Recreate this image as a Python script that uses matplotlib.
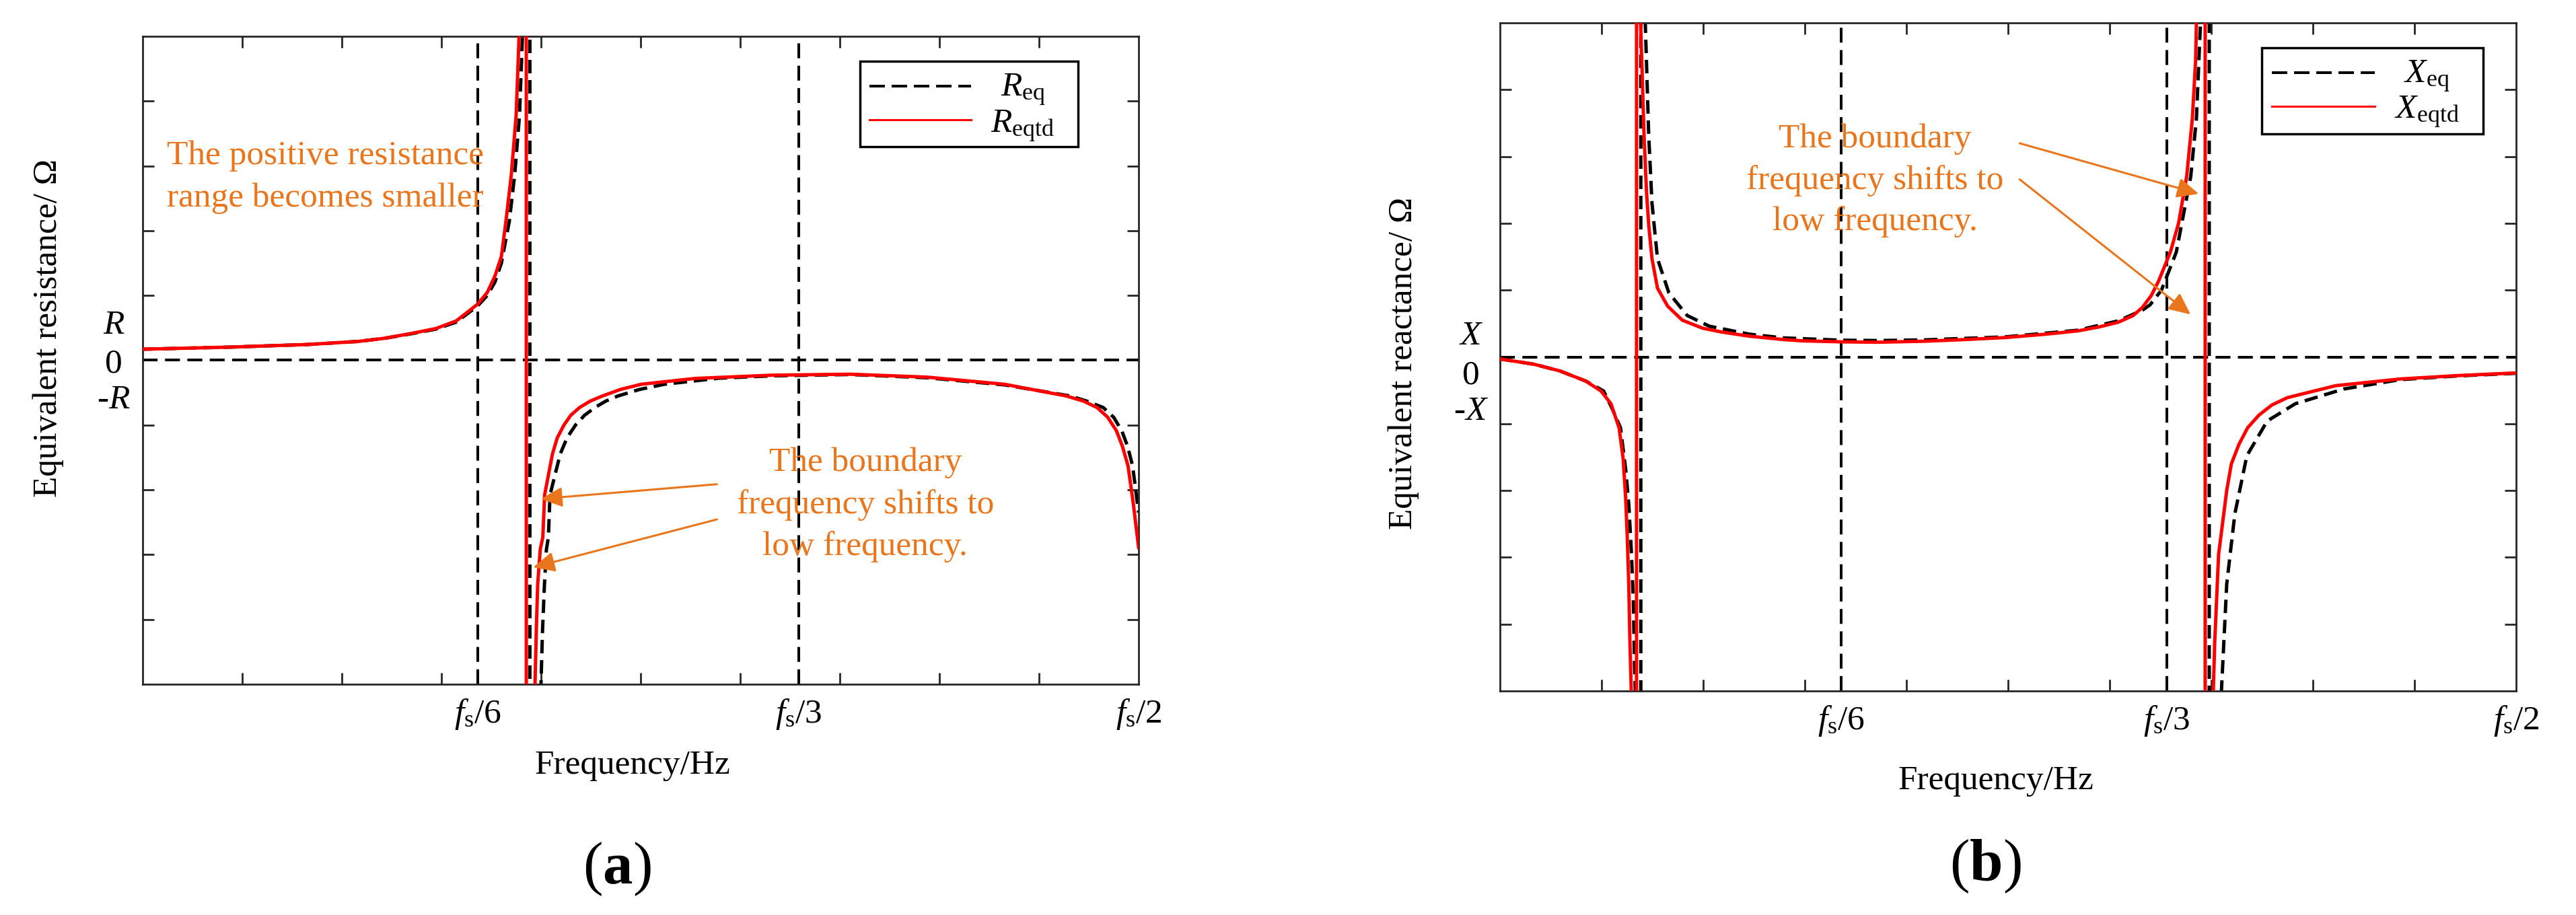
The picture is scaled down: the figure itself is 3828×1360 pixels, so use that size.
import matplotlib
matplotlib.use('Agg')
import matplotlib.pyplot as plt
from matplotlib.lines import Line2D
from matplotlib.patches import Rectangle
from matplotlib.ticker import NullFormatter

plt.rcParams['font.family'] = ['Liberation Serif', 'DejaVu Serif']
plt.rcParams['mathtext.fontset'] = 'custom'
plt.rcParams['mathtext.rm'] = 'Liberation Serif'
plt.rcParams['mathtext.it'] = 'Liberation Serif:italic'
plt.rcParams['mathtext.bf'] = 'Liberation Serif:bold'
plt.rcParams['axes.unicode_minus'] = False

FS = 37
ORANGE = '#E9761C'
SPINE = '#262626'

# ------------------------------------------------------------------ data
# x in fractions of fs (0 .. fs/2), y in arbitrary units (one tick = 1)
major_x = [0.05, 0.10, 0.15, 0.20, 0.25, 0.30, 0.35, 0.40, 0.45]
major_y = [-4, -3, -2, -1, 1, 2, 3, 4]

# ---- panel (a): equivalent resistance
a_xtick_pos = [0.1682, 0.3294, 0.5]
a_xtick_lab = [r'$f_{\mathrm{s}}$/6', r'$f_{\mathrm{s}}$/3', r'$f_{\mathrm{s}}$/2']
a_ytick_pos = [0.59, 0.0, -0.56]
a_ytick_lab = [r'$R$', '0', r'-$R$']
a_ref_v = [0.1682, 0.3294]

a_req_x = [0.0, 0.0437, 0.0825, 0.1083, 0.1213, 0.1342, 0.1471, 0.1575, 0.1682, 0.1730,
           0.1769, 0.1801, 0.1841, 0.1868, 0.1892, 0.1907, 0.1944, 0.1944,
           0.2000, 0.2007, 0.2017, 0.2027, 0.2037, 0.2045, 0.2096, 0.2130, 0.2173, 0.2218,
           0.2270, 0.2325, 0.2387, 0.2495, 0.2620, 0.2891, 0.3162, 0.3551, 0.3939, 0.4326,
           0.4655, 0.4740, 0.4823, 0.4875, 0.4916, 0.4945, 0.4970, 0.5000]
a_req_y = [0.171, 0.203, 0.243, 0.291, 0.339, 0.405, 0.480, 0.590, 0.840, 1.000,
           1.210, 1.500, 2.150, 2.870, 3.780, 5.020, 12.0, -12.0,
           -4.98, -4.21, -3.47, -2.92, -2.73, -2.08, -1.45, -1.20, -1.00, -0.85,
           -0.73, -0.63, -0.55, -0.45, -0.37, -0.277, -0.24, -0.22, -0.27, -0.38,
           -0.55, -0.63, -0.73, -0.88, -1.09, -1.33, -1.63, -2.35]

a_reqtd_x = [0.0, 0.0437, 0.0825, 0.1083, 0.1213, 0.1342, 0.1471, 0.1575, 0.1682, 0.1730,
             0.1769, 0.1801, 0.1824, 0.1851, 0.1875, 0.1890, 0.1926, 0.1926,
             0.1970, 0.1976, 0.1983, 0.1996, 0.2009, 0.2018, 0.2057, 0.2081, 0.2115, 0.2149,
             0.2193, 0.2247, 0.2309, 0.2399, 0.2503, 0.2775, 0.3162, 0.3550, 0.3938, 0.4326,
             0.4636, 0.4723, 0.4792, 0.4845, 0.4889, 0.4919, 0.4947, 0.4973, 0.5000]
a_reqtd_y = [0.171, 0.203, 0.243, 0.291, 0.339, 0.410, 0.489, 0.609, 0.867, 1.046,
             1.304, 1.602, 2.150, 2.870, 3.780, 5.020, 12.0, -12.0,
             -4.98, -4.21, -3.47, -2.92, -2.73, -2.08, -1.45, -1.20, -1.00, -0.85,
             -0.73, -0.63, -0.55, -0.45, -0.37, -0.28, -0.23, -0.215, -0.26, -0.37,
             -0.55, -0.63, -0.73, -0.88, -1.09, -1.33, -1.63, -2.20, -2.89]

# ---- panel (b): equivalent reactance
b_xtick_pos = [0.1678, 0.3280, 0.5]
b_xtick_lab = [r'$f_{\mathrm{s}}$/6', r'$f_{\mathrm{s}}$/3', r'$f_{\mathrm{s}}$/2']
b_ytick_pos = [0.37, -0.22, -0.76]
b_ytick_lab = [r'$X$', '0', r'-$X$']
b_ref_v = [0.1678, 0.3280]

b_xeq_x = [0.0, 0.0168, 0.0295, 0.0421, 0.0510, 0.0553, 0.0593, 0.0618, 0.0634, 0.0646,
           0.0656, 0.0662, 0.0666, 0.0693, 0.0693,
           0.0715, 0.0732, 0.0748, 0.0775, 0.0831, 0.0921, 0.1030, 0.1228, 0.1394, 0.1679,
           0.1858, 0.2089, 0.2487, 0.2844, 0.3043, 0.3161, 0.3199, 0.3255, 0.3328, 0.3399,
           0.3427, 0.3447, 0.3490, 0.3490,
           0.3550, 0.3576, 0.3616, 0.3675, 0.3775, 0.3914, 0.4152, 0.4430, 0.4709, 0.5000]
b_xeq_y = [-0.03, -0.11, -0.21, -0.36, -0.51, -0.78, -1.06, -1.67, -2.21, -2.89,
           -3.63, -4.59, -5.0, -12.0, 12.0,
           5.0, 3.31, 2.30, 1.47, 0.96, 0.62, 0.46, 0.34, 0.285, 0.25,
           0.245, 0.255, 0.30, 0.40, 0.54, 0.70, 0.78, 1.00, 1.57, 2.70,
           3.57, 5.0, 12.0, -12.0,
           -5.0, -3.40, -2.35, -1.48, -0.96, -0.70, -0.48, -0.34, -0.285, -0.245]

b_xeqtd_x = [0.0, 0.0168, 0.0295, 0.0421, 0.0497, 0.0546, 0.0586, 0.0606, 0.0618, 0.0626,
             0.0634, 0.0639, 0.0646, 0.0672, 0.0672,
             0.0692, 0.0699, 0.0709, 0.0721, 0.0732, 0.0748, 0.0775, 0.0825, 0.0897, 0.0997,
             0.1096, 0.1228, 0.1394, 0.1493, 0.1679, 0.1858, 0.2089, 0.2288, 0.2487, 0.2685,
             0.2844, 0.2950, 0.3043, 0.3116, 0.3161, 0.3205, 0.3240, 0.3299, 0.3339, 0.3379,
             0.3407, 0.3423, 0.3427, 0.3470, 0.3470,
             0.3510, 0.3517, 0.3536, 0.3576, 0.3599, 0.3636, 0.3679, 0.3735, 0.3798, 0.3874,
             0.4113, 0.4430, 0.4709, 0.5000]
b_xeqtd_y = [-0.03, -0.11, -0.21, -0.36, -0.51, -0.70, -1.06, -1.52, -2.09, -2.67,
             -3.44, -4.21, -5.0, -12.0, 12.0,
             5.0, 4.31, 3.31, 2.47, 1.97, 1.47, 1.03, 0.76, 0.55, 0.43,
             0.37, 0.31, 0.26, 0.24, 0.226, 0.22, 0.235, 0.26, 0.29, 0.34,
             0.39, 0.45, 0.52, 0.62, 0.74, 0.92, 1.13, 1.57, 2.00, 2.70,
             3.57, 4.44, 5.0, 12.0, -12.0,
             -5.0, -4.27, -2.96, -2.00, -1.60, -1.31, -1.06, -0.87, -0.72, -0.61,
             -0.43, -0.33, -0.28, -0.24]

# ------------------------------------------------------------------ figure
fig = plt.figure(figsize=(38.28, 13.6), dpi=100)
axa = fig.add_axes([0.05538, 0.25221, 0.38662, 0.70809])
axb = fig.add_axes([0.58229, 0.24485, 0.39446, 0.73015])

REF_LS = (0, (5.5, 2.75))
CUR_LS = (0, (4.0, 2.0))


def style(ax, xt_pos, xt_lab, yt_pos, yt_lab):
    ax.set_xlim(0, 0.5)
    ax.set_ylim(-5, 5)
    ax.set_xticks(major_x)
    ax.set_yticks(major_y)
    ax.xaxis.set_major_formatter(NullFormatter())
    ax.yaxis.set_major_formatter(NullFormatter())
    ax.tick_params(which='major', direction='in', length=12, width=2,
                   color=SPINE, top=True, right=True)
    ax.set_xticks(xt_pos, xt_lab, minor=True)
    ax.set_yticks(yt_pos, yt_lab, minor=True)
    ax.tick_params(which='minor', length=0, labelsize=FS, top=False, right=False)
    ax.tick_params(axis='x', which='minor', pad=14)
    ax.tick_params(axis='y', which='minor', pad=31)
    for lab in ax.get_yticklabels(minor=True):
        lab.set_horizontalalignment('center')
    for s in ax.spines.values():
        s.set_linewidth(2)
        s.set_color(SPINE)


def draw(ax, refv, bx, by, rx, ry):
    ax.axhline(0, color='black', lw=2.9, linestyle=REF_LS, zorder=1)
    for v in refv:
        ax.axvline(v, color='black', lw=2.9, linestyle=REF_LS, zorder=1)
    ax.plot(bx, by, color='black', lw=3.6, linestyle=CUR_LS, zorder=2)
    ax.plot(rx, ry, color='#FF0000', lw=3.6, zorder=3, solid_joinstyle='round')


def legend(ax, box, lx, rows, tx, tb, labels):
    ax.add_patch(Rectangle((box[0], box[1]), box[2] - box[0], box[3] - box[1],
                           transform=ax.transAxes, facecolor='white',
                           edgecolor='black', lw=2.5, zorder=6))
    ax.add_artist(Line2D(lx, [rows[0], rows[0]], transform=ax.transAxes, color='black',
                         lw=2.9, linestyle=(0, (5.7, 2.5)), zorder=7))
    ax.add_artist(Line2D(lx, [rows[1], rows[1]], transform=ax.transAxes, color='#FF0000',
                         lw=2.2, zorder=7))
    for b_, lab in zip(tb, labels):
        ax.text(tx, b_, lab, transform=ax.transAxes, fontsize=FS, ha='center',
                va='baseline', zorder=8)


def arrow(ax, tail, tip):
    ax.annotate('', xy=tip, xytext=tail,
                arrowprops=dict(arrowstyle='-|>,head_length=0.97,head_width=0.45',
                                mutation_scale=20, color=ORANGE, lw=2.2,
                                shrinkA=0, shrinkB=0), zorder=9)


# ---- panel (a)
style(axa, a_xtick_pos, a_xtick_lab, a_ytick_pos, a_ytick_lab)
draw(axa, a_ref_v, a_req_x, a_req_y, a_reqtd_x, a_reqtd_y)
legend(axa, (0.7203, 0.8297, 0.9392, 0.9616), [0.7297, 0.8318], (0.9232, 0.8712),
       0.8838, (0.9076, 0.8515), [r'$R_{\mathrm{eq}}$', r'$R_{\mathrm{eqtd}}$'])
axa.text(0.01216, 3.157, 'The positive resistance', color=ORANGE, fontsize=FS,
         ha='left', va='center')
axa.text(0.01216, 2.496, 'range becomes smaller', color=ORANGE, fontsize=FS,
         ha='left', va='center')
for yy, s in zip([-1.584, -2.228, -2.877],
                 ['The boundary', 'frequency shifts to', 'low frequency.']):
    axa.text(0.3628, yy, s, color=ORANGE, fontsize=FS, ha='center', va='center')
arrow(axa, (0.2883, -1.913), (0.1999, -2.139))
arrow(axa, (0.2883, -2.456), (0.1960, -3.196))

# ---- panel (b)
style(axb, b_xtick_pos, b_xtick_lab, b_ytick_pos, b_ytick_lab)
draw(axb, b_ref_v, b_xeq_x, b_xeq_y, b_xeqtd_x, b_xeqtd_y)
legend(axb, (0.7497, 0.8341, 0.9675, 0.9630), [0.7596, 0.8609], (0.9255, 0.8751),
       0.9120, (0.9104, 0.8570), [r'$X_{\mathrm{eq}}$', r'$X_{\mathrm{eqtd}}$'])
for yy, s in zip([3.260, 2.643, 2.020],
                 ['The boundary', 'frequency shifts to', 'low frequency.']):
    axb.text(0.1846, yy, s, color=ORANGE, fontsize=FS, ha='center', va='center')
arrow(axb, (0.2557, 3.198), (0.3438, 2.442))
arrow(axb, (0.2557, 2.658), (0.3398, 0.636))

# ---- axis titles and captions
W, H = 3828.0, 1360.0
fig.text(939.5 / W, 1 - 1150 / H, 'Frequency/Hz', ha='center', va='baseline', fontsize=FS)
fig.text(2966 / W, 1 - 1173 / H, 'Frequency/Hz', ha='center', va='baseline', fontsize=FS)
fig.text(72 / W, 1 - 488 / H, 'Equivalent resistance/ Ω', rotation=90,
         ha='center', va='center', fontsize=FS)
fig.text(2085.5 / W, 1 - 540 / H, 'Equivalent reactance/ Ω', rotation=90,
         ha='center', va='center', fontsize=FS)
fig.text(917 / W, 1 - 1292 / H, r'($\mathbf{a}$)', ha='center', va='center', fontsize=64)
fig.text(2950 / W, 1 - 1288 / H, r'($\mathbf{b}$)', ha='center', va='center', fontsize=64)

fig.savefig('out.png', dpi=100, facecolor='white')
